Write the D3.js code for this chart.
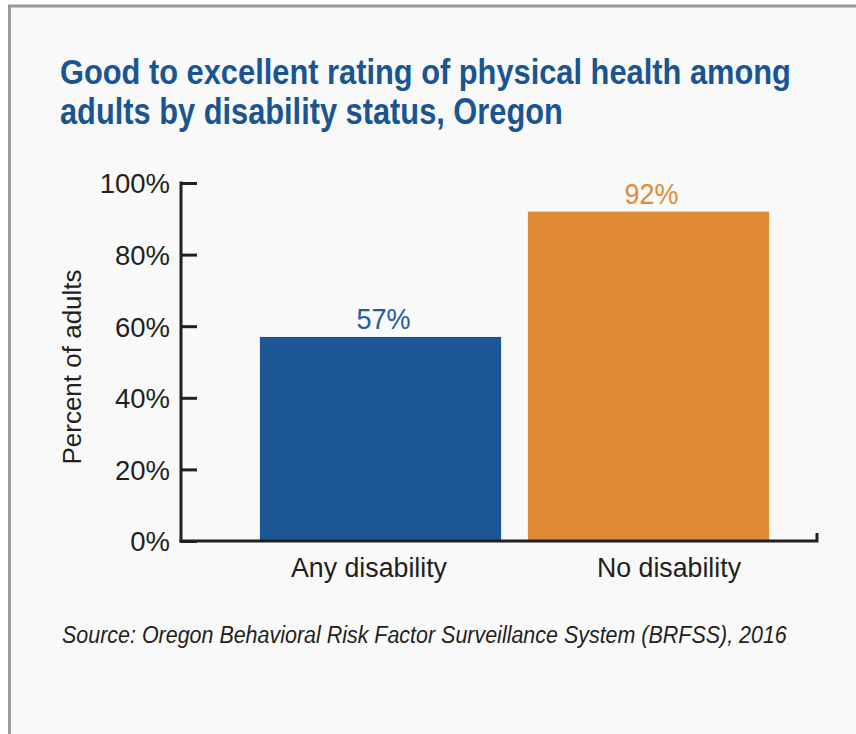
<!DOCTYPE html>
<html>
<head>
<meta charset="utf-8">
<script src="https://cdn.jsdelivr.net/npm/d3@7/dist/d3.min.js"></script>
<style>
  html, body { margin: 0; padding: 0; background: #ffffff; }
  svg { display: block; }
</style>
</head>
<body>
<svg id="chart" width="856" height="734"></svg>
<script>
// ---- data ----
const categories = ["Any disability", "No disability"];
const values = [57, 92];
const valueLabels = ["57%", "92%"];
const yTicks = [0, 20, 40, 60, 80, 100];
const titleLines = ["Good to excellent rating of physical health among", "adults by disability status, Oregon"];
const yTitle = "Percent of adults";
const sourceText = "Source: Oregon Behavioral Risk Factor Surveillance System (BRFSS), 2016";
const barColors = ["#1c5694", "#e08b33"];
const labelColors = ["#245c9a", "#e08b33"];

const svg = d3.select("#chart");
const W = 856, H = 734;
const ink = "#231f20";
const sans = "'Liberation Sans', Arial, Helvetica, sans-serif";

// panel
svg.append("rect").attr("x", 0).attr("y", 0).attr("width", W).attr("height", H).attr("fill", "#ffffff");
svg.append("rect").attr("x", 9.5).attr("y", 6).attr("width", W + 20).attr("height", H + 20)
  .attr("fill", "#f9f9f9").attr("stroke", "#9a9a9c").attr("stroke-width", 3);

// condensed-text helper: draw text inside a group, squeeze horizontally to a target width
function condensedText(parent, str, cx, cy, width, anchor, attrs) {
  const g = parent.append("g");
  const t = g.append("text").attr("x", 0).attr("y", 0).text(str);
  Object.entries(attrs).forEach(([k, v]) => t.attr(k, v));
  t.attr("text-anchor", anchor);
  const len = t.node().getComputedTextLength();
  const sx = len > 0 ? width / len : 1;
  g.attr("transform", `translate(${cx},${cy}) scale(${sx},1)`);
  return g;
}

// title
titleLines.forEach((t, i) => {
  condensedText(svg, t, 60, 84 + i * 40, i === 0 ? 731 : 503, "start",
    {"font-family": sans, "font-weight": "bold", "font-size": 36, "fill": "#1a5591"});
});

// scales
const y = d3.scaleLinear().domain([0, 100]).range([541, 183]);
const x = d3.scaleBand().domain(categories).range([246.5, 782.5]).paddingInner(0.1).paddingOuter(0.05);
const xLab = d3.scalePoint().domain(categories).range([369, 669]);
const axisX0 = 181, axisX1 = 817;

// bars
svg.append("g").selectAll("rect").data(categories).join("rect")
  .attr("x", d => x(d))
  .attr("y", (d, i) => y(values[i]))
  .attr("width", x.bandwidth())
  .attr("height", (d, i) => y(0) - y(values[i]))
  .attr("fill", (d, i) => barColors[i]);

// value labels
const valG = svg.append("g");
categories.forEach((d, i) => {
  condensedText(valG, valueLabels[i], x(d) + x.bandwidth() / 2 + 3, y(values[i]) - 8, 54, "middle",
    {"font-family": sans, "font-size": 29, "fill": labelColors[i]});
});

// y axis
const yAxis = svg.append("g")
  .attr("transform", `translate(${axisX0},0)`)
  .call(d3.axisLeft(y).tickValues(yTicks).tickFormat(d => d + "%").tickSizeInner(-16).tickSizeOuter(0).tickPadding(11));
yAxis.selectAll("path, line").attr("stroke", ink).attr("stroke-width", 3);
yAxis.select(".domain").attr("d", `M0,${y(0) + 1.5}V${y(100) - 1.5}`);
yAxis.selectAll("text").attr("font-family", sans).attr("font-size", 27.5).attr("fill", ink)
  .attr("dy", "0.36em");

// x axis line with end tick
svg.append("path")
  .attr("d", `M${axisX0 - 1.5},${y(0)}H${axisX1}V${y(0) - 8}`)
  .attr("fill", "none").attr("stroke", ink).attr("stroke-width", 3);

// category labels
const catWidths = [156, 144];
const catG = svg.append("g");
categories.forEach((d, i) => {
  condensedText(catG, d, xLab(d), 577, catWidths[i], "middle",
    {"font-family": sans, "font-size": 28, "fill": ink});
});

// y title
svg.append("text")
  .attr("transform", `translate(81,367) rotate(-90)`)
  .attr("text-anchor", "middle")
  .attr("font-family", sans).attr("font-size", 26).attr("fill", ink)
  .text(yTitle);

// source
condensedText(svg, sourceText, 62, 643, 725, "start",
  {"font-family": sans, "font-style": "italic", "font-size": 23, "fill": ink});
</script>
</body>
</html>
